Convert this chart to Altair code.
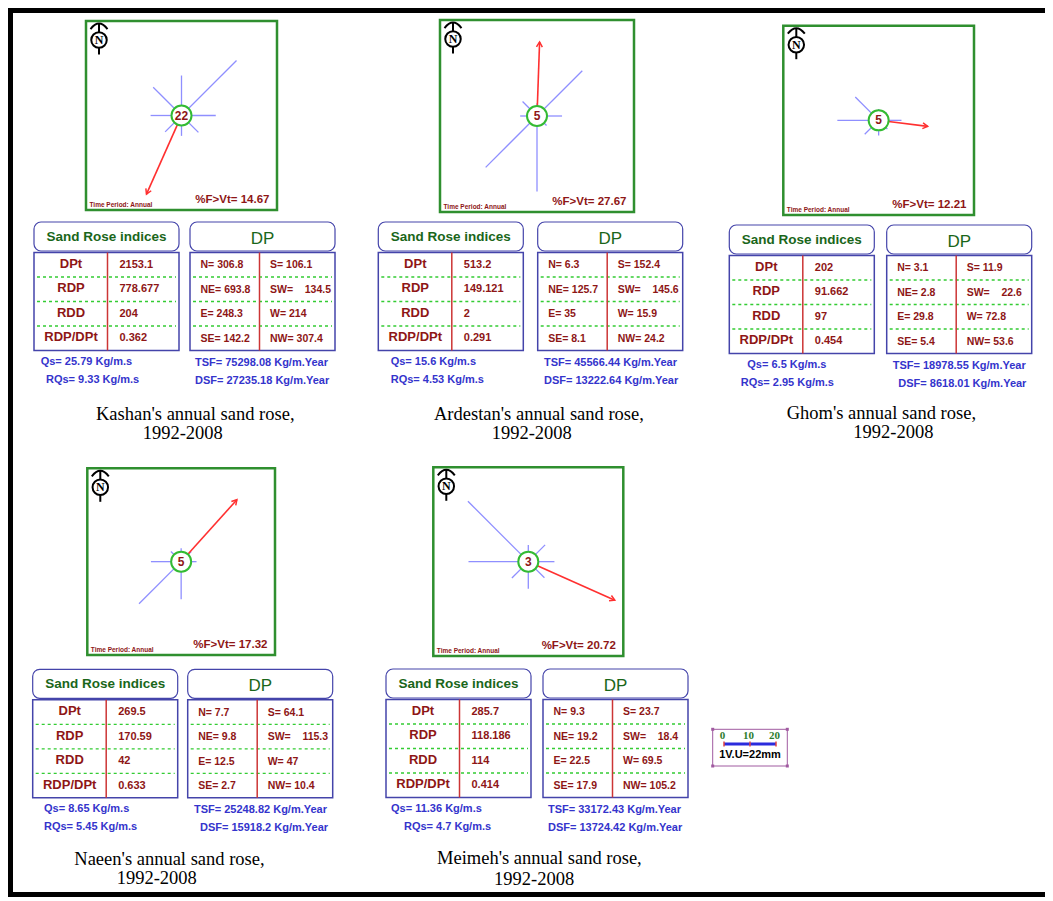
import altair as alt
import pandas as pd

# ---------------- data ----------------
stations = ["Kashan", "Ardestan", "Ghom", "Naeen", "Meimeh"]
reduction_factor = [22, 5, 5, 5, 3]
pct_f_over_vt = [14.67, 27.67, 12.21, 17.32, 20.72]
dpt = [2153.1, 513.2, 202, 269.5, 285.7]
rdp = [778.677, 149.121, 91.662, 170.59, 118.186]
rdd = [204, 2, 97, 42, 114]
rdp_over_dpt = [0.362, 0.291, 0.454, 0.633, 0.414]

dp_N = [306.8, 6.3, 3.1, 7.7, 9.3]
dp_NE = [693.8, 125.7, 2.8, 9.8, 19.2]
dp_E = [248.3, 35, 29.8, 12.5, 22.5]
dp_SE = [142.2, 8.1, 5.4, 2.7, 17.9]
dp_S = [106.1, 152.4, 11.9, 64.1, 23.7]
dp_SW = [134.5, 145.6, 22.6, 115.3, 18.4]
dp_W = [214, 15.9, 72.8, 47, 69.5]
dp_NW = [307.4, 24.2, 53.6, 10.4, 105.2]

qs = [25.79, 15.6, 6.5, 8.65, 11.36]
rqs = [9.33, 4.53, 2.95, 5.45, 4.7]
tsf = [75298.08, 45566.44, 18978.55, 25248.82, 33172.43]
dsf = [27235.18, 13222.64, 8618.01, 15918.2, 13724.42]

directions = ["N", "NE", "E", "SE", "S", "SW", "W", "NW"]
bearings = [0, 45, 90, 135, 180, 225, 270, 315]
index_labels = ["DPt", "RDP", "RDD", "RDP/DPt"]
legend_ticks = [0, 10, 20]
legend_label = "1V.U=22mm"
period_label = "Time Period: Annual"
years_label = "1992-2008"

dp_series = [dp_N, dp_NE, dp_E, dp_SE, dp_S, dp_SW, dp_W, dp_NW]


def fmt(v):
    return ("%.6f" % v).rstrip("0").rstrip(".")


# ---------------- layout (page pixel positions) ----------------
LAYOUT = [
    dict(box=(86, 21, 277, 210), hx=34, hy=222, dpx=190, qs=40.7, rqs=46, tsf=195, dsf=195,
         c1=(96, 414), c2=(142.7, 433.3)),
    dict(box=(440, 20, 634, 212), hx=378.3, hy=222, dpx=537.7, qs=390.7, rqs=390.7, tsf=544, dsf=544,
         c1=(434, 414), c2=(491.7, 433.3)),
    dict(box=(783.3, 25.7, 974, 215), hx=729.3, hy=225, dpx=886.7, qs=747.3, rqs=740.7, tsf=892.7, dsf=898.3,
         c1=(786.7, 413.3), c2=(853.3, 431.7)),
    dict(box=(87.3, 468.3, 275, 655), hx=32.7, hy=669.3, dpx=187.7, qs=44, rqs=44, tsf=194, dsf=200,
         c1=(74.3, 859.3), c2=(116.7, 878)),
    dict(box=(433.3, 467.3, 623.3, 656), hx=386, hy=669, dpx=543, qs=391, rqs=404, tsf=548, dsf=548,
         c1=(437, 858), c2=(494, 879)),
]
LEGEND = dict(box=(712.7, 729.3, 787.3, 766), x_start=724, px_per_unit=2.6, bar_y=744)
PX_PER_VU = 2.15   # pixels per vector unit
R0 = 10            # radius of the centre circle

SANS = "Liberation Sans"
SERIF = "Liberation Serif"
DARKRED = "#8e1616"
BLUE = "#3434cc"
GREEN_TXT = "#1a661a"
NAVY = "#4444aa"

W, H = 1037, 889
OX, OY = 8, 8
xsc = alt.Scale(domain=[OX, OX + W], nice=False, zero=False)
ysc = alt.Scale(domain=[OY, OY + H], nice=False, zero=False, reverse=True)


def X(f):
    return alt.X(f"{f}:Q", scale=xsc, axis=None)


def Y(f):
    return alt.Y(f"{f}:Q", scale=ysc, axis=None)


# ---------------- build tables ----------------
rose_frames, arm_rows, arrow_rows, centre_rows, north_rows = [], [], [], [], []
period_rows, fvt_rows = [], []
hdr_boxes, tbl_boxes, red_divs, green_dash = [], [], [], []
hdr1_txt, hdr2_txt, lab_txt, val_txt, dp_txt, blue_txt, cap_txt = [], [], [], [], [], [], []

for i, st in enumerate(stations):
    L = LAYOUT[i]
    x0, y0, x1, y1 = L["box"]
    cx, cy = (x0 + x1) / 2, (y0 + y1) / 2
    rf = reduction_factor[i]
    rose_frames.append(dict(x0=x0, y0=y0, x1=x1, y1=y1))
    for d, b, ser in zip(directions, bearings, dp_series):
        arm_rows.append(dict(station=st, dir=d, b=b, dp=ser[i], rf=rf, cx=cx, cy=cy))
    arrow_rows.append(dict(station=st, b=rdd[i], dp=rdp[i], rf=rf, cx=cx, cy=cy))
    centre_rows.append(dict(x=cx, y=cy, t=str(rf)))
    north_rows.append(dict(x=x0 + 13, y=y0 + 19, y_top=y0 + 2.5, y_bot=y0 + 33.5, t="N"))
    period_rows.append(dict(x=x0 + 3.5, y=y1 - 5.5, t=period_label))
    fvt_rows.append(dict(x=x1 - 7.5, y=y1 - 10, t=f"%F>Vt= {fmt(pct_f_over_vt[i])}"))

    hx, hy, dx = L["hx"], L["hy"], L["dpx"]
    for bx in (hx, dx):
        hdr_boxes.append(dict(x0=bx, y0=hy, x1=bx + 145, y1=hy + 29))
        tbl_boxes.append(dict(x0=bx, y0=hy + 30.5, x1=bx + 145, y1=hy + 128.5))
        for k in (1, 2, 3):
            yy = hy + 30.5 + 24.5 * k
            green_dash.append(dict(x0=bx + 3, y0=yy, x1=bx + 142, y1=yy))
    red_divs.append(dict(x0=hx + 73.5, y0=hy + 30.5, x1=hx + 73.5, y1=hy + 128.5))
    red_divs.append(dict(x0=dx + 69.5, y0=hy + 30.5, x1=dx + 69.5, y1=hy + 128.5))
    hdr1_txt.append(dict(x=hx + 72.5, y=hy + 14.5, t="Sand Rose indices"))
    hdr2_txt.append(dict(x=dx + 72.5, y=hy + 16.5, t="DP"))

    vals = [dpt[i], rdp[i], rdd[i], rdp_over_dpt[i]]
    for k in range(4):
        rc = hy + 30.5 + 24.5 * (k + 0.5)
        lab_txt.append(dict(x=hx + 37, y=rc - 1, t=index_labels[k]))
        val_txt.append(dict(x=hx + 85.5, y=rc, t=fmt(vals[k])))
        dl, dr = directions[k], directions[k + 4]
        dp_txt.append(dict(x=dx + 10.5, y=rc + 0.5, t=f"{dl}= {fmt(dp_series[k][i])}"))
        sep = "=\u00a0\u00a0\u00a0\u00a0" if dr == "SW" else "= "
        dp_txt.append(dict(x=dx + 80, y=rc + 0.5, t=f"{dr}{sep}{fmt(dp_series[k + 4][i])}"))

    blue_txt += [
        dict(x=L["qs"], y=hy + 140, t=f"Qs= {fmt(qs[i])} Kg/m.s"),
        dict(x=L["rqs"], y=hy + 157.5, t=f"RQs= {fmt(rqs[i])} Kg/m.s"),
        dict(x=L["tsf"], y=hy + 141, t=f"TSF= {fmt(tsf[i])} Kg/m.Year"),
        dict(x=L["dsf"], y=hy + 158.5, t=f"DSF= {fmt(dsf[i])} Kg/m.Year"),
    ]
    cap_txt += [
        dict(x=L["c1"][0], y=L["c1"][1], t=f"{st}'s annual sand rose,"),
        dict(x=L["c2"][0], y=L["c2"][1], t=years_label),
    ]

# legend
lx0, ly0, lx1, ly1 = LEGEND["box"]
leg_frame = [dict(x0=lx0, y0=ly0, x1=lx1, y1=ly1)]
leg_corners = [dict(x=a, y=b) for a in (lx0, lx1) for b in (ly0, ly1)]
leg_bar = [dict(x0=LEGEND["x_start"], y0=LEGEND["bar_y"],
                x1=LEGEND["x_start"] + max(legend_ticks) * LEGEND["px_per_unit"], y1=LEGEND["bar_y"])]
leg_ticks = [dict(x0=LEGEND["x_start"] + t * LEGEND["px_per_unit"], y0=LEGEND["bar_y"] - 2.5,
                  x1=LEGEND["x_start"] + t * LEGEND["px_per_unit"], y1=LEGEND["bar_y"] + 2.5) for t in legend_ticks]
leg_nums = [dict(x=LEGEND["x_start"] + t * LEGEND["px_per_unit"] - 1.5, y=LEGEND["bar_y"] - 8, t=str(t))
            for t in legend_ticks]
leg_text = [dict(x=(lx0 + lx1) / 2, y=LEGEND["bar_y"] + 10.5, t=legend_label)]

# page border
border = [
    dict(x0=OX, y0=OY + 2.5, x1=OX + W, y1=OY + 2.5),
    dict(x0=OX + 2.5, y0=OY, x1=OX + 2.5, y1=OY + H),
    dict(x0=OX, y0=OY + H - 2.5, x1=OX + W, y1=OY + H - 2.5),
]


# ---------------- layer helpers ----------------
def rules(rows, stroke, sw, dash=None, cap="butt", opacity=1):
    kw = dict(stroke=stroke, strokeWidth=sw, strokeCap=cap, opacity=opacity)
    if dash:
        kw["strokeDash"] = dash
    return alt.Chart(pd.DataFrame(rows)).mark_rule(**kw).encode(
        x=X("x0"), y=Y("y0"), x2=alt.X2("x1"), y2=alt.Y2("y1"))


def rects(rows, stroke, sw, radius=0):
    kw = dict(fill="white", fillOpacity=0, stroke=stroke, strokeWidth=sw)
    if radius:
        kw["cornerRadius"] = radius
    return alt.Chart(pd.DataFrame(rows)).mark_rect(**kw).encode(
        x=X("x0"), y=Y("y0"), x2=alt.X2("x1"), y2=alt.Y2("y1"))


def texts(rows, font, size, weight, align, color):
    return alt.Chart(pd.DataFrame(rows)).mark_text(
        font=font, fontSize=size, fontWeight=weight, align=align, baseline="middle", color=color
    ).encode(x=X("x"), y=Y("y"), text=alt.Text("t:N"))


# direction arms (lengths from DP / reduction factor)
arms = alt.Chart(pd.DataFrame(arm_rows)).transform_calculate(
    L=f"{R0} + datum.dp / datum.rf * {PX_PER_VU}",
    xe="datum.cx + datum.L * sin(datum.b * PI / 180)",
    ye="datum.cy - datum.L * cos(datum.b * PI / 180)",
).mark_rule(stroke="#8f8fff", strokeWidth=1.3).encode(
    x=X("cx"), y=Y("cy"), x2=alt.X2("xe"), y2=alt.Y2("ye"))

arrow_base = alt.Chart(pd.DataFrame(arrow_rows)).transform_calculate(
    L=f"{R0} + datum.dp / datum.rf * {PX_PER_VU}",
    xs=f"datum.cx + {R0} * sin(datum.b * PI / 180)",
    ys=f"datum.cy - {R0} * cos(datum.b * PI / 180)",
    xe="datum.cx + datum.L * sin(datum.b * PI / 180)",
    ye="datum.cy - datum.L * cos(datum.b * PI / 180)",
)
arrow_line = arrow_base.mark_rule(stroke="#ff3030", strokeWidth=1.6).encode(
    x=X("xs"), y=Y("ys"), x2=alt.X2("xe"), y2=alt.Y2("ye"))
arrow_head = arrow_base.mark_point(
    shape="M-0.7,1.2L0,0L0.7,1.2", size=70, filled=False, stroke="#ff3030",
    strokeWidth=1.5, opacity=1, strokeJoin="miter"
).encode(x=X("xe"), y=Y("ye"), angle=alt.Angle("b:Q", scale=None))

centre_circle = alt.Chart(pd.DataFrame(centre_rows)).mark_point(
    shape="circle", size=400, filled=True, fill="white", stroke="#33bb33", strokeWidth=2, opacity=1
).encode(x=X("x"), y=Y("y"))
centre_txt = texts(centre_rows, SANS, 12, "bold", "center", DARKRED)

north_df = pd.DataFrame(north_rows)
north_stem = alt.Chart(north_df).mark_rule(stroke="black", strokeWidth=2).encode(
    x=X("x"), y=Y("y_top"), y2=alt.Y2("y_bot"))
north_head = alt.Chart(north_df).transform_calculate(yh="datum.y_top").mark_point(
    shape="M-1,0.65Q0,-0.65 1,0.65", size=289, filled=False, stroke="black", strokeWidth=2, opacity=1
).encode(x=X("x"), y=Y("yh"))
north_circle = alt.Chart(north_df).mark_point(
    shape="circle", size=240, filled=True, fill="white", stroke="black", strokeWidth=2, opacity=1
).encode(x=X("x"), y=Y("y"))
north_txt = alt.Chart(north_df).mark_text(
    font=SERIF, fontSize=12, fontWeight="bold", align="center", baseline="middle", color="black"
).encode(x=X("x"), y=Y("y"), text=alt.Text("t:N"))

leg_corner_pts = alt.Chart(pd.DataFrame(leg_corners)).mark_point(
    shape="square", size=9, filled=True, color="#a05aa0", opacity=1).encode(x=X("x"), y=Y("y"))

layers = [
    rules(border, "black", 5),
    rects(rose_frames, "#2f8f2f", 2.5),
    arms,
    arrow_line,
    arrow_head,
    centre_circle,
    centre_txt,
    north_stem,
    north_head,
    north_circle,
    north_txt,
    texts(period_rows, SANS, 6.5, "bold", "left", DARKRED),
    texts(fvt_rows, SANS, 11.5, "bold", "right", DARKRED),
    rects(hdr_boxes, NAVY, 1.2, radius=7),
    rects(tbl_boxes, NAVY, 1.5),
    rules(green_dash, "#33cc33", 1.3, dash=[3, 3]),
    rules(red_divs, "#cc3535", 1.5),
    texts(hdr1_txt, SANS, 13.5, "bold", "center", GREEN_TXT),
    texts(hdr2_txt, SANS, 17, "normal", "center", GREEN_TXT),
    texts(lab_txt, SANS, 13, "bold", "center", DARKRED),
    texts(val_txt, SANS, 11, "bold", "left", DARKRED),
    texts(dp_txt, SANS, 10.5, "bold", "left", DARKRED),
    texts(blue_txt, SANS, 11, "bold", "left", BLUE),
    texts(cap_txt, SERIF, 18.5, "normal", "left", "black"),
    rects(leg_frame, "#a05aa0", 1),
    leg_corner_pts,
    rules(leg_bar, "#2b2bdd", 3),
    rules(leg_ticks, "#e04545", 1.5),
    texts(leg_nums, SERIF, 11, "bold", "center", "#2d7d2d"),
    texts(leg_text, SANS, 11, "bold", "center", "black"),
]

chart = alt.layer(*layers).properties(
    width=W, height=H, padding=0, autosize=alt.AutoSizeParams(type="none")
).configure_view(stroke=None)

chart.save("out.html", embed_options={"renderer": "svg", "actions": False})
